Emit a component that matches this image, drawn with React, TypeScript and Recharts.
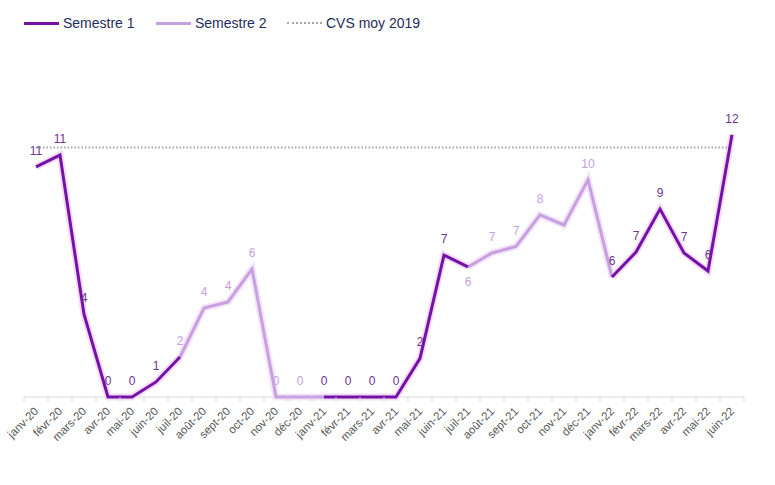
import React from 'react';
import {LineChart, Line, XAxis, YAxis, LabelList} from 'recharts';

const months = [
  'janv-20', 'févr-20', 'mars-20', 'avr-20', 'mai-20', 'juin-20',
  'juil-20', 'août-20', 'sept-20', 'oct-20', 'nov-20', 'déc-20',
  'janv-21', 'févr-21', 'mars-21', 'avr-21', 'mai-21', 'juin-21',
  'juil-21', 'août-21', 'sept-21', 'oct-21', 'nov-21', 'déc-21',
  'janv-22', 'févr-22', 'mars-22', 'avr-22', 'mai-22', 'juin-22',
];

// semestre 1 also carries the following juillet so the line joins the next segment
const semestre1 = [
  10.7, 11.25, 3.85, 0, 0, 0.7,
  1.86, null, null, null, null, null,
  0, 0, 0, 0, 1.8, 6.6,
  6.05, null, null, null, null, null,
  5.58, 6.74, 8.74, 6.7, 5.86, 12.2,
];

// semestre 2 also carries the following janvier
const semestre2 = [
  null, null, null, null, null, null,
  1.86, 4.14, 4.42, 5.95, 0, 0,
  0, null, null, null, null, null,
  6.05, 6.7, 7.0, 8.47, 8.0, 10.1,
  5.58, null, null, null, null, null,
];

const cvsMoy2019 = 11.6;

const hiddenLabels = ['nov-21'];

const data = months.map((m, i) => ({
  month: m,
  s1: semestre1[i],
  s2: semestre2[i],
  cvs: cvsMoy2019,
}));

const DARK = '#7412a8';
const LIGHT = '#c7a0e2';
const FONT = '"Liberation Sans", Arial, sans-serif';

const isFirstHalf = (i: number) => i % 12 < 6;

const makeLabel = (firstHalf: boolean, color: string) => (props: any) => {
  const {x, y, value, index} = props;
  if (value === null || value === undefined) return null;
  if (isFirstHalf(index) !== firstHalf) return null;
  if (hiddenLabels.includes(months[index])) return null;
  const below = months[index] === 'juil-21';
  return (
    <text
      x={x}
      y={below ? y + 15 : y - 16}
      textAnchor="middle"
      dominantBaseline="central"
      fontSize={12}
      fontFamily={FONT}
      fill={color}
    >
      {Math.round(value)}
    </text>
  );
};

const MonthTick = (props: any) => {
  const {x, y, payload, index} = props;
  return (
    <g>
      <line x1={x - 12} y1={y - 8} x2={x - 12} y2={y - 3} stroke="#d9d9d9" />
      {index === months.length - 1 && (
        <line x1={x + 12} y1={y - 8} x2={x + 12} y2={y - 3} stroke="#d9d9d9" />
      )}
      <text
        x={x + 3}
        y={y + 7}
        textAnchor="end"
        fontSize={11.5}
        fontFamily={FONT}
        fill="#595959"
        transform={`rotate(-45, ${x + 3}, ${y + 7})`}
      >
        {payload.value}
      </text>
    </g>
  );
};

const legendItems = [
  {label: 'Semestre 1', color: DARK, dashed: false, x: 24},
  {label: 'Semestre 2', color: LIGHT, dashed: false, x: 156},
  {label: 'CVS moy 2019', color: '#a6a6a6', dashed: true, x: 287},
];

const App = () => {
  return (
    <div style={{position: 'absolute', left: 0, top: 0, width: 775, height: 485, background: '#fff'}}>
      {legendItems.map(item => (
        <div
          key={item.label}
          style={{
            position: 'absolute',
            left: item.x,
            top: 14,
            height: 18,
            display: 'flex',
            alignItems: 'center',
            fontFamily: FONT,
            fontSize: 14,
            color: '#1f2d5c',
            whiteSpace: 'nowrap',
          }}
        >
          <span
            style={{
              display: 'inline-block',
              width: 35,
              height: 0,
              borderTop: item.dashed ? `2px dotted ${item.color}` : `3px solid ${item.color}`,
              marginRight: 4,
            }}
          />
          {item.label}
        </div>
      ))}
      <LineChart width={775} height={485} data={data} margin={{top: 96, right: 31, left: 24, bottom: 28}}>
        <XAxis
          dataKey="month"
          interval={0}
          height={60}
          padding={{left: 12, right: 12}}
          axisLine={{stroke: '#d9d9d9'}}
          tickLine={false}
          tick={<MonthTick />}
        />
        <YAxis hide domain={[0, 14]} />
        <Line zIndex={600} dataKey="s1" stroke="#f4dcf6" strokeWidth={7} dot={false} activeDot={false} isAnimationActive={false} legendType="none" />
        <Line zIndex={600} dataKey="s2" stroke="#f4e4f8" strokeWidth={7} dot={false} activeDot={false} isAnimationActive={false} legendType="none" />
        <Line zIndex={600} dataKey="cvs" stroke="#a6a6a6" strokeWidth={2} strokeDasharray="1.5 2" dot={false} activeDot={false} isAnimationActive={false} />
        <Line zIndex={600} dataKey="s2" stroke={LIGHT} strokeWidth={3} dot={false} activeDot={false} isAnimationActive={false}>
          <LabelList dataKey="s2" content={makeLabel(false, LIGHT)} />
        </Line>
        <Line zIndex={600} dataKey="s1" stroke={DARK} strokeWidth={3} dot={false} activeDot={false} isAnimationActive={false}>
          <LabelList dataKey="s1" content={makeLabel(true, '#6e3490')} />
        </Line>
      </LineChart>
    </div>
  );
};

export default App;
